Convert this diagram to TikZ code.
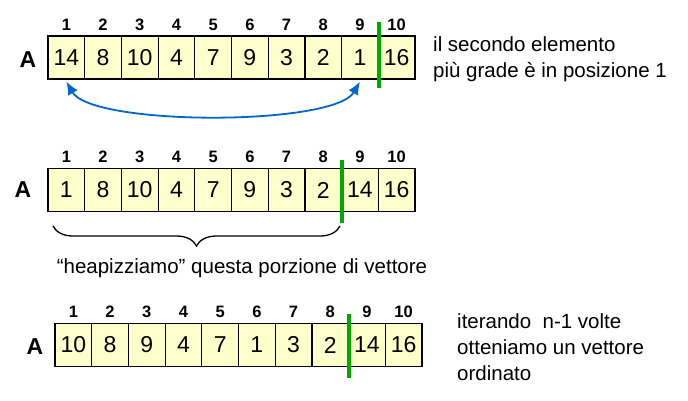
\documentclass[tikz,border=0pt]{standalone}
\usepackage{fontspec}
\setmainfont{Liberation Sans}
\usetikzlibrary{arrows.meta,decorations.pathreplacing}
\definecolor{cellyellow}{RGB}{255,255,204}
\definecolor{swapblue}{RGB}{0,102,204}
\definecolor{cutgreen}{RGB}{0,170,0}

\begin{document}
\begin{tikzpicture}[x=1pt,y=-1pt,label distance=5pt]
          \tikzset{
            idx/.style={font=\bfseries\fontsize{16.5}{16.5}\selectfont, inner sep=0pt},
            cell/.style={draw, fill=cellyellow, line width=1.2pt, minimum width=36.7pt,
              minimum height=43pt, inner sep=0pt, font=\fontsize{23}{23}\selectfont,
              label={[idx]above:#1}},
            vecname/.style={font=\bfseries\fontsize{23}{23}\selectfont, inner sep=0pt},
            note/.style={font=\fontsize{20.5}{26}\selectfont, align=left, inner sep=0pt},
            cut/.style={draw=cutgreen, line width=3.5pt},
            swap/.style={<->, >={Latex[length=13pt,width=11pt]}, draw=swapblue, line width=1.8pt},
            heapbrace/.style={decorate, decoration={brace, mirror, amplitude=20pt}, line width=1.3pt}
          }
          \useasboundingbox (0,0) rectangle (688,400);

          % top vector
          \node[vecname] (ta) at (28,60) {A};
          \node[cell=1] (t1) at (66.35,57.5) {14};
          \node[cell=2] (t2) at (103.05,57.5) {8};
          \node[cell=3] (t3) at (139.75,57.5) {10};
          \node[cell=4] (t4) at (176.45,57.5) {4};
          \node[cell=5] (t5) at (213.15,57.5) {7};
          \node[cell=6] (t6) at (249.85,57.5) {9};
          \node[cell=7] (t7) at (286.55,57.5) {3};
          \node[cell=8] (t8) at (323.25,57.5) {2};
          \node[cell=9] (t9) at (359.95,57.5) {1};
          \node[cell=10] (t10) at (396.65,57.5) {16};
          \node[note, anchor=west] (tnote) at (433,59) {il secondo elemento\\più grade è in posizione 1};

          % middle vector
          \node[vecname] (ma) at (23,190) {A};
          \node[cell=1] (m1) at (66.35,190) {1};
          \node[cell=2] (m2) at (103.05,190) {8};
          \node[cell=3] (m3) at (139.75,190) {10};
          \node[cell=4] (m4) at (176.45,190) {4};
          \node[cell=5] (m5) at (213.15,190) {7};
          \node[cell=6] (m6) at (249.85,190) {9};
          \node[cell=7] (m7) at (286.55,190) {3};
          \node[cell=8] (m8) at (323.25,190) {2};
          \node[cell=9] (m9) at (359.95,190) {14};
          \node[cell=10] (m10) at (396.65,190) {16};
          \coordinate (bl) at (53,226);
          \coordinate (br) at (340,226);
          \node[note] (htext) at (242,268) {“heapizziamo” questa porzione di vettore};

          % bottom vector
          \node[vecname] (ba) at (35,347) {A};
          \node[cell=1] (b1) at (73.35,345) {10};
          \node[cell=2] (b2) at (110.05,345) {8};
          \node[cell=3] (b3) at (146.75,345) {9};
          \node[cell=4] (b4) at (183.45,345) {4};
          \node[cell=5] (b5) at (220.15,345) {7};
          \node[cell=6] (b6) at (256.85,345) {1};
          \node[cell=7] (b7) at (293.55,345) {3};
          \node[cell=8] (b8) at (330.25,345) {2};
          \node[cell=9] (b9) at (366.95,345) {14};
          \node[cell=10] (b10) at (403.65,345) {16};
          \node[note, anchor=west] (bnote) at (457,347.5) {iterando~ n-1 volte\\otteniamo un vettore\\ordinato};

          % marks
          \draw[cut] ([yshift=13pt]t9.north east) -- ([yshift=-8pt]t9.south east);
          \draw[cut] ([yshift=8pt]m8.north east) -- ([yshift=-11pt]m8.south east);
          \draw[cut] ([yshift=9pt]b8.north east) -- ([yshift=-11pt]b8.south east);
          \draw[swap] ([yshift=-2pt]t1.south) to[out=-60,in=-120,looseness=0.45] ([yshift=-2pt]t9.south);
          \draw[heapbrace] (bl) -- (br);
        \end{tikzpicture}
\end{document}
